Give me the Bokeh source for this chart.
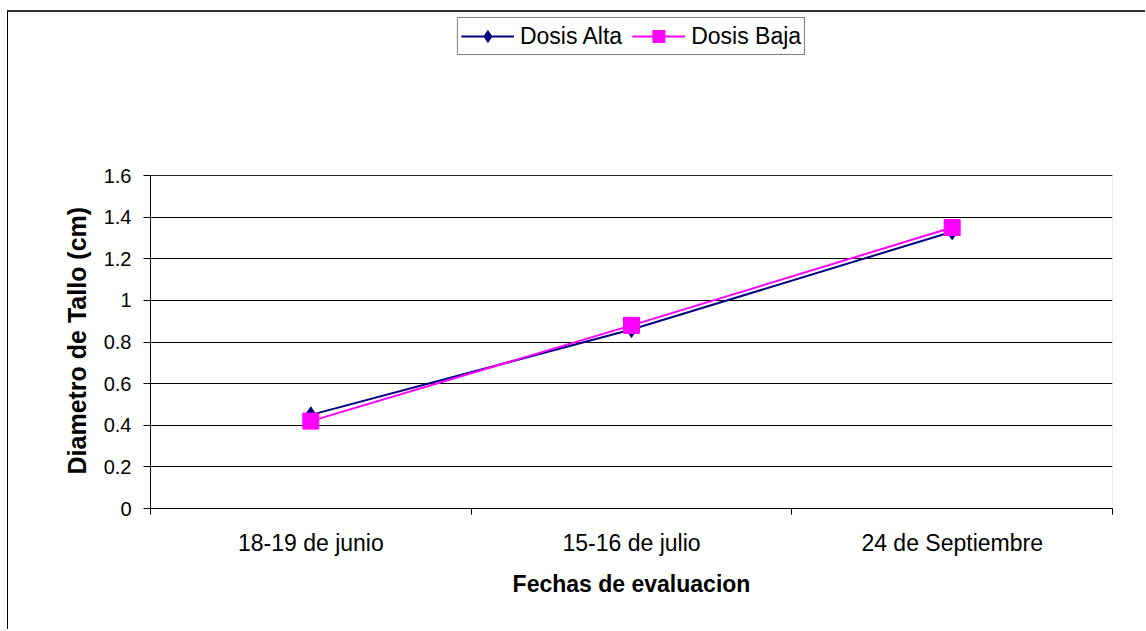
from bokeh.plotting import figure
from bokeh.models import (Range1d, FixedTicker, Legend, LegendItem, ColumnDataSource,
                          BoxAnnotation, Title)
from bokeh.embed import file_html
from bokeh.resources import INLINE

categories = ["18-19 de junio", "15-16 de julio", "24 de Septiembre"]
dosis_alta = [0.45, 0.86, 1.33]
dosis_baja = [0.42, 0.88, 1.35]
y_ticks = [0, 0.2, 0.4, 0.6, 0.8, 1.0, 1.2, 1.4, 1.6]
y_tick_labels = ["0", "0.2", "0.4", "0.6", "0.8", "1", "1.2", "1.4", "1.6"]
y_min, y_max = 0, 1.6

xs = [i + 0.5 for i in range(len(categories))]
src = ColumnDataSource(dict(x=xs, alta=dosis_alta, baja=dosis_baja))

# layout: plot area is 333 px tall; legend sits in the extra space above it
AREA_PX, FRAME_PX = 333, 491
y_top = y_max * FRAME_PX / AREA_PX

FONT = "Liberation Sans"
p = figure(width=1138, height=619, output_backend="svg", toolbar_location=None,
           x_range=Range1d(0, len(categories)), y_range=Range1d(y_min, y_top),
           min_border_left=142, min_border_right=34, min_border_top=5,
           min_border_bottom=123)
p.styles = {"margin-left": "7px", "margin-top": "10px",
            "border-left": "1px solid #000000", "border-top": "2px solid #333333"}
p.background_fill_color = "white"
p.outline_line_color = None

# plot-area border (0 .. 1.6)
p.add_layout(BoxAnnotation(bottom=y_min, top=y_max, fill_color=None,
                           line_color="#808080", line_width=1, level="underlay"))

# x axis
p.xaxis.ticker = FixedTicker(ticks=xs, minor_ticks=list(range(len(categories) + 1)))
p.xaxis.major_label_overrides = {x: c for x, c in zip(xs, categories)}
p.xaxis.major_tick_line_color = None
p.xaxis.major_tick_out = 0
p.xaxis.major_tick_in = 0
p.xaxis.minor_tick_out = 6
p.xaxis.minor_tick_in = 0
p.xaxis.minor_tick_line_color = "#000000"
p.xaxis.axis_line_color = "#000000"
p.xaxis.major_label_standoff = 15
p.xaxis.major_label_text_font = FONT
p.xaxis.major_label_text_font_size = "23px"
p.xaxis.major_label_text_color = "#000000"
p.xaxis.axis_label = "Fechas de evaluacion"
p.xaxis.axis_label_text_font = FONT
p.xaxis.axis_label_text_font_style = "bold"
p.xaxis.axis_label_text_font_size = "23px"
p.xaxis.axis_label_standoff = 12
p.xaxis.axis_label_text_color = "#000000"

# y axis
p.yaxis.ticker = FixedTicker(ticks=y_ticks, minor_ticks=[])
p.yaxis.bounds = (y_min, y_max)
p.yaxis.major_label_overrides = {t: l for t, l in zip(y_ticks, y_tick_labels)}
p.yaxis.major_tick_out = 7
p.yaxis.major_tick_in = 0
p.yaxis.major_tick_line_color = "#000000"
p.yaxis.axis_line_color = "#000000"
p.yaxis.major_label_standoff = 12
p.yaxis.major_label_text_font = FONT
p.yaxis.major_label_text_font_size = "20px"
p.yaxis.major_label_text_color = "#000000"
p.yaxis.axis_label = ""

# y-axis title as a side title, placed along the 0..1.6 plot area
p.add_layout(Title(text="Diametro de Tallo (cm)", align="left", offset=34,
                   text_font=FONT, text_font_style="bold", text_font_size="25px",
                   text_color="#000000", standoff=19), "left")

p.xgrid.grid_line_color = None
p.ygrid.grid_line_color = "#000000"
p.ygrid.grid_line_width = 1

la = p.line("x", "alta", source=src, line_color="#000080", line_width=2)
sa = p.scatter("x", "alta", source=src, marker="diamond", size=16,
               fill_color="#000080", line_color="#000080")
lb = p.line("x", "baja", source=src, line_color="#FF00FF", line_width=2)
sb = p.scatter("x", "baja", source=src, marker="square", size=16,
               fill_color="#FF00FF", line_color="#FF00FF")

legend = Legend(items=[LegendItem(label="Dosis Alta", renderers=[la, sa]),
                       LegendItem(label="Dosis Baja", renderers=[lb, sb])],
                orientation="horizontal", location="top_center",
                label_text_font=FONT, label_text_font_size="23px",
                label_text_color="#000000", label_height=30,
                glyph_width=53, glyph_height=30, label_standoff=6, spacing=10,
                padding=3, margin=0, border_line_color="#000000",
                border_line_width=1, background_fill_alpha=1)
p.add_layout(legend, "center")

open("out.html", "w").write(file_html(p, INLINE))
